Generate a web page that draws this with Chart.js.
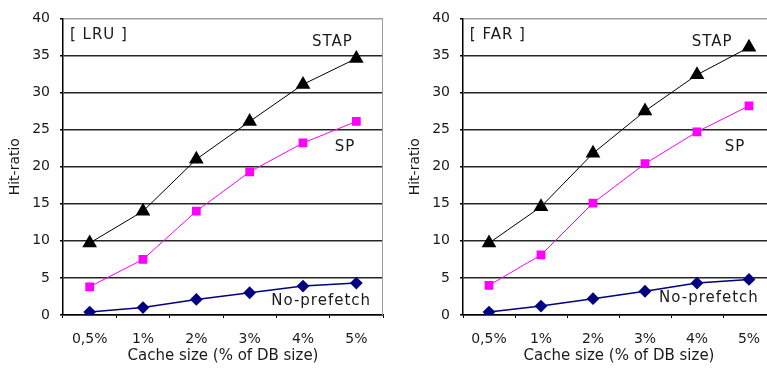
<!DOCTYPE html>
<html>
<head>
<meta charset="utf-8">
<script src="https://cdn.jsdelivr.net/npm/chart.js@4.4.1/dist/chart.umd.min.js"></script>
<style>
  html, body { margin: 0; padding: 0; background: #fff; overflow: hidden; width: 767px; height: 369px; }
  #lru { position: absolute; left: 0; top: 0; }
  #far { position: absolute; left: 400px; top: 0; }
</style>
</head>
<body>
<canvas id="lru" width="385" height="369"></canvas>
<canvas id="far" width="380" height="369"></canvas>
<script>
// cache sizes on the x axis
const cacheSizes = ['0,5%', '1%', '2%', '3%', '4%', '5%'];

// hit ratios, LRU replacement
const lruStap = [9.7, 14.0, 21.0, 26.1, 31.1, 34.6];
const lruSp = [3.8, 7.5, 14.0, 19.3, 23.2, 26.1];
const lruNoPrefetch = [0.4, 1.0, 2.1, 3.0, 3.9, 4.3];

// hit ratios, FAR replacement
const farStap = [9.7, 14.6, 21.8, 27.5, 32.4, 36.1];
const farSp = [4.0, 8.1, 15.1, 20.4, 24.7, 28.2];
const farNoPrefetch = [0.4, 1.2, 2.2, 3.2, 4.3, 4.8];

const FONT = 'DejaVu Sans';
const TEXT = '#1a1a1a';

// text written inside the plot, placed in data units
const plotNotes = {
  id: 'plotNotes',
  afterDatasetsDraw(chart, args, opts) {
    const { ctx, chartArea: a } = chart;
    const x = chart.scales.x, y = chart.scales.y;
    ctx.save();
    // grey frame on the right side
    ctx.strokeStyle = '#a0a0a0';
    ctx.lineWidth = 1;
    ctx.beginPath();
    ctx.moveTo(a.right - 0.5, a.top);
    ctx.lineTo(a.right - 0.5, a.bottom);
    ctx.stroke();

    ctx.font = '15px "' + FONT + '"';
    ctx.letterSpacing = '1px';
    ctx.fillStyle = TEXT;
    ctx.textBaseline = 'middle';
    opts.items.forEach(n => {
      ctx.textAlign = n.align || 'center';
      ctx.fillText(n.text, x.getPixelForValue(n.x), y.getPixelForValue(n.y));
    });
    ctx.restore();
  }
};

function series(label, data, color, style, radius, width) {
  return {
    label: label,
    data: data,
    borderColor: color,
    backgroundColor: color,
    borderWidth: width,
    pointStyle: style,
    pointRadius: radius,
    pointHoverRadius: radius,
    pointBorderWidth: 0,
    tension: 0
  };
}

function makeChart(id, stap, sp, noPre, notes) {
  return new Chart(document.getElementById(id), {
    type: 'line',
    data: {
      labels: cacheSizes,
      datasets: [
        series('No-prefetch', noPre, '#000080', 'rectRot', 6.4, 1.5),
        series('SP', sp, '#ff00ff', 'rect', 6.2, 1),
        series('STAP', stap, '#000000', 'triangle', 8.5, 1)
      ]
    },
    options: {
      responsive: false,
      animation: false,
      events: [],
      layout: { autoPadding: false, padding: { top: 15, right: id === 'lru' ? 2 : 5, left: 0, bottom: 0 } },
      plugins: {
        legend: { display: false },
        tooltip: { enabled: false },
        plotNotes: { items: notes }
      },
      scales: {
        x: {
          offset: true,
          grid: { offset: true, drawOnChartArea: false, tickLength: 3, color: '#000', lineWidth: 1 },
          border: { color: '#000', width: 1.5 },
          ticks: { color: TEXT, font: { family: FONT, size: 14 }, padding: 13 },
          title: {
            display: true, text: 'Cache size (% of DB size)', color: TEXT,
            font: { family: FONT, size: 15 }, padding: { top: 0, bottom: 4 }
          },
          afterFit(s) { s.height = 54; }
        },
        y: {
          min: 0, max: 40,
          ticks: { stepSize: 5, color: TEXT, font: { family: FONT, size: 14 }, padding: 10 },
          grid: {
            color: c => c.tick && c.tick.value === 40 ? '#a0a0a0' : '#262626',
            lineWidth: 1.4,
            tickLength: 3,
            tickColor: '#000'
          },
          border: { color: '#000', width: 1.5 },
          title: {
            display: true, text: 'Hit-ratio', color: TEXT,
            font: { family: FONT, size: 14 }, padding: { top: 7, bottom: 0 }
          },
          afterFit(s) { s.width = 63; }
        }
      }
    },
    plugins: [plotNotes]
  });
}

makeChart('lru', lruStap, lruSp, lruNoPrefetch, [
  { text: '[ LRU ]', x: -0.37, y: 37.7, align: 'left' },
  { text: 'STAP', x: 4.55, y: 36.8 },
  { text: 'SP', x: 4.79, y: 22.7 },
  { text: 'No-prefetch', x: 4.34, y: 1.9 }
]);

makeChart('far', farStap, farSp, farNoPrefetch, [
  { text: '[ FAR ]', x: -0.37, y: 37.7, align: 'left' },
  { text: 'STAP', x: 4.29, y: 36.8 },
  { text: 'SP', x: 4.73, y: 22.7 },
  { text: 'No-prefetch', x: 4.23, y: 2.27 }
]);
</script>
</body>
</html>
